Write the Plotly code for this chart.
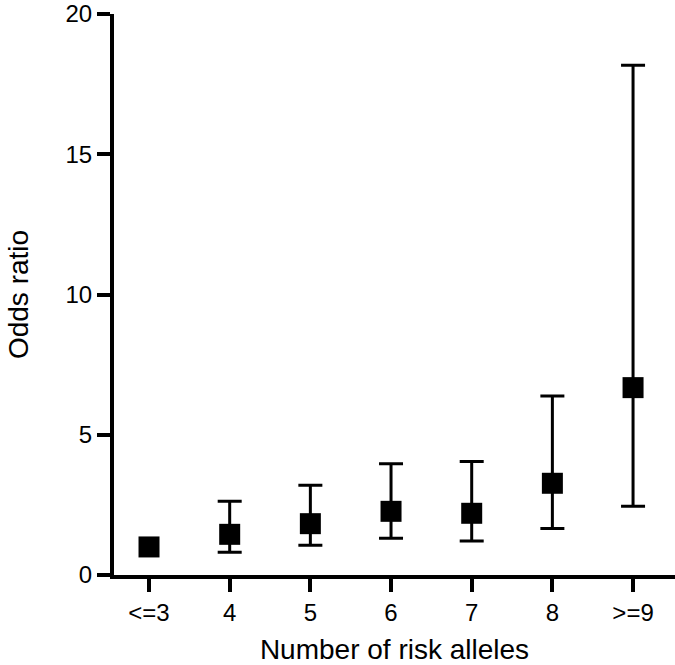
import plotly.graph_objects as go

# risk allele groups and odds ratios with 95% CI
groups = ['<=3', '4', '5', '6', '7', '8', '>=9']
odds_ratio = [1.0, 1.45, 1.83, 2.27, 2.2, 3.27, 6.68]
ci_low = [None, 0.81, 1.06, 1.31, 1.21, 1.66, 2.45]
ci_high = [None, 2.63, 3.2, 3.97, 4.05, 6.38, 18.17]

xs = list(range(len(groups)))
# reference group (<=3) has no interval
has_ci = [i for i in xs if ci_low[i] is not None]
err_plus = [ci_high[i] - odds_ratio[i] for i in has_ci]
err_minus = [odds_ratio[i] - ci_low[i] for i in has_ci]

font_name = 'Liberation Sans, Arial, sans-serif'

fig = go.Figure()
fig.add_trace(go.Scatter(
    x=has_ci, y=[odds_ratio[i] for i in has_ci], mode='markers',
    marker=dict(size=1, color='rgba(0,0,0,0)'),
    error_y=dict(type='data', symmetric=False, array=err_plus, arrayminus=err_minus,
                 color='black', thickness=3, width=12),
    showlegend=False, hoverinfo='skip',
))
fig.add_trace(go.Scatter(
    x=xs, y=odds_ratio, mode='markers',
    marker=dict(symbol='square', size=21, color='black'),
    showlegend=False,
))

fig.update_xaxes(
    range=[-0.434, 6.52], tickvals=xs, ticktext=groups,
    showline=True, linecolor='black', linewidth=4, showgrid=False, zeroline=False,
    ticks='outside', ticklen=13, tickwidth=4, tickcolor='black',
    tickfont=dict(size=24, color='black', family=font_name),
    title=dict(text='Number of risk alleles', standoff=20,
               font=dict(size=28, color='black', family=font_name)),
)
fig.update_yaxes(
    range=[0, 20], tickvals=[0, 5, 10, 15, 20], ticklabeloverflow='allow',
    showline=True, linecolor='black', linewidth=4, showgrid=False, zeroline=False,
    ticks='outside', ticklen=13, tickwidth=4, tickcolor='black',
    tickfont=dict(size=24, color='black', family=font_name),
    title=dict(text='Odds ratio', standoff=30,
               font=dict(size=28, color='black', family=font_name)),
)

fig.update_layout(
    width=675, height=665,
    margin=dict(l=114, r=0, t=12, b=90),
    plot_bgcolor='white', paper_bgcolor='white',
)

# drop the browser's default page margin so the figure fills the window
fig.write_html("out.html", config={'displayModeBar': False},
               post_script="document.body.style.margin='0';")
